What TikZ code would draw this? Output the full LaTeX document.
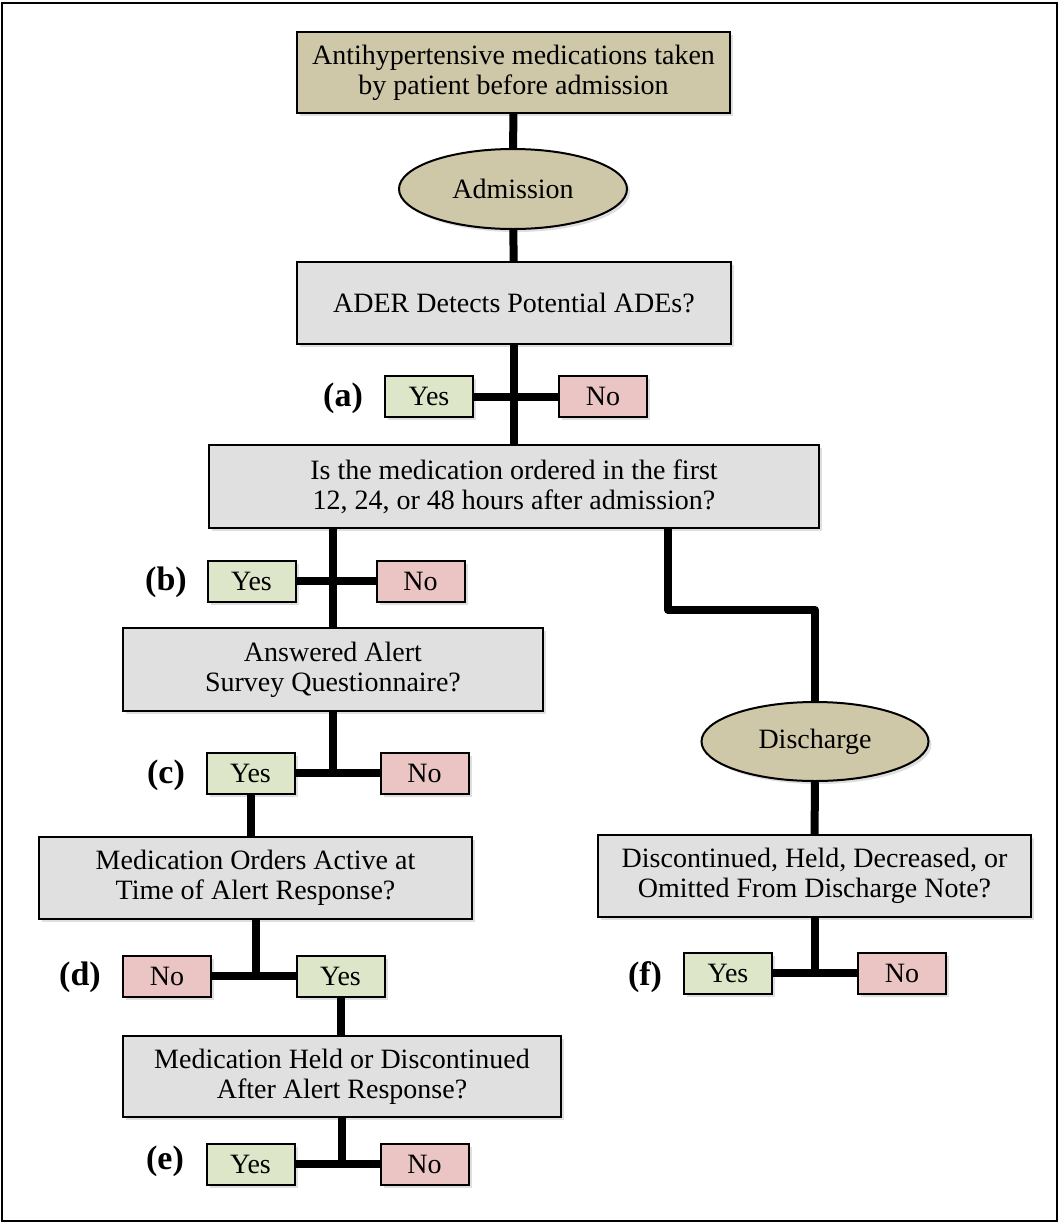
\documentclass[tikz,border=0pt]{standalone}
\usepackage{fontspec}
\setmainfont{Liberation Serif}
\usetikzlibrary{shapes.geometric,shadows}
\definecolor{tanfill}{RGB}{207,200,168}
\definecolor{qgray}{RGB}{224,224,224}
\definecolor{yesgreen}{RGB}{221,230,200}
\definecolor{nored}{RGB}{235,196,196}
\tikzset{
  base/.style={draw=black, line width=1pt, align=center, inner sep=0pt,
    font=\fontsize{14}{15}\selectfont,
    drop shadow={shadow xshift=1.5pt, shadow yshift=-1.5pt, opacity=0.25}},
  qbox/.style={base, fill=qgray, minimum height=41pt},
  startbox/.style={base, fill=tanfill, minimum width=216.5pt, minimum height=40.5pt},
  oval/.style={base, ellipse, fill=tanfill, minimum width=114pt, minimum height=40pt},
  yesbox/.style={base, fill=yesgreen, minimum width=44pt, minimum height=20.5pt},
  nobox/.style={base, fill=nored, minimum width=44pt, minimum height=20.5pt},
  tag/.style={font=\bfseries\fontsize{17}{17}\selectfont},
  link/.style={line width=4pt, line join=round}
}
\begin{document}
\begin{tikzpicture}[x=0.5pt, y=-0.5pt]
  \useasboundingbox (0,0) rectangle (1061,1222);
  \draw [line width=1.2pt] (2,3) rectangle (1057,1221);

  \node [startbox] (start) at (513.5,72.5) {Antihypertensive medications taken\\by patient before admission};
  \node [oval] (adm) at (513,189) {Admission};
  \node [qbox, minimum width=217pt] (ader) at (514,303) {ADER Detects Potential ADEs?};
  \node [yesbox] (ayes) at (429,396.5) {Yes};
  \node [nobox] (ano) at (603,396.5) {No};
  \node [tag] (atag) at (343,398) {(a)};

  \node [qbox, minimum width=305pt, minimum height=41.5pt] (ordered) at (514,486.5) {Is the medication ordered in the first\\12, 24, or 48 hours after admission?};
  \node [yesbox] (byes) at (251.5,581) {Yes};
  \node [nobox] (bno) at (420.5,581) {No};
  \node [tag] (btag) at (166,582) {(b)};

  \node [qbox, minimum width=210pt, minimum height=41.5pt] (survey) at (333,669.5) {Answered Alert\\Survey Questionnaire?};
  \node [yesbox] (cyes) at (250.5,773) {Yes};
  \node [nobox] (cno) at (424.5,773) {No};
  \node [tag] (ctag) at (166,775) {(c)};

  \node [qbox, minimum width=216.5pt] (active) at (255.5,878) {Medication Orders Active at\\Time of Alert Response?};
  \node [nobox] (dno) at (167,976) {No};
  \node [yesbox] (dyes) at (340.5,976) {Yes};
  \node [tag] (dtag) at (80,977) {(d)};

  \node [qbox, minimum width=219pt, minimum height=40.5pt] (held) at (342,1076.5) {Medication Held or Discontinued\\After Alert Response?};
  \node [yesbox] (eyes) at (250.5,1164) {Yes};
  \node [nobox] (eno) at (424.5,1164) {No};
  \node [tag] (etag) at (165,1161) {(e)};

  \node [oval, minimum width=113.5pt, minimum height=39.5pt] (dis) at (815,741.5) {Discharge};
  \node [qbox, minimum width=216.5pt] (note) at (814.5,876) {Discontinued, Held, Decreased, or\\Omitted From Discharge Note?};
  \node [yesbox] (fyes) at (728,973) {Yes};
  \node [nobox] (fno) at (902,973) {No};
  \node [tag] (ftag) at (645,977) {(f)};

  \coordinate (bend) at (668,610);

  % main branch
  \draw [link] (start) -- (adm);
  \draw [link] (adm) -- (ader);
  \draw [link] (ader) -- (ordered);
  \draw [link] (ayes) -- (ano);
  \draw [link] (survey.north |- ordered.south) -- (survey.north);
  \draw [link] (byes) -- (bno);
  \draw [link] (survey.south) -- (survey.south |- cyes.east);
  \draw [link] (cyes) -- (cno);
  \draw [link] (cyes.south) -- (cyes.south |- active.north);
  \draw [link] (active.south) -- (active.south |- dno.east);
  \draw [link] (dno) -- (dyes);
  \draw [link] (dyes.south) -- (dyes.south |- held.north);
  \draw [link] (held.south) -- (held.south |- eyes.east);
  \draw [link] (eyes) -- (eno);

  % discharge branch
  \draw [link] (ordered.south -| bend) -- (bend) -- (bend -| dis.north) -- (dis.north);
  \draw [link] (dis) -- (note);
  \draw [link] (note.south) -- (note.south |- fyes.east);
  \draw [link] (fyes) -- (fno);
\end{tikzpicture}
\end{document}
